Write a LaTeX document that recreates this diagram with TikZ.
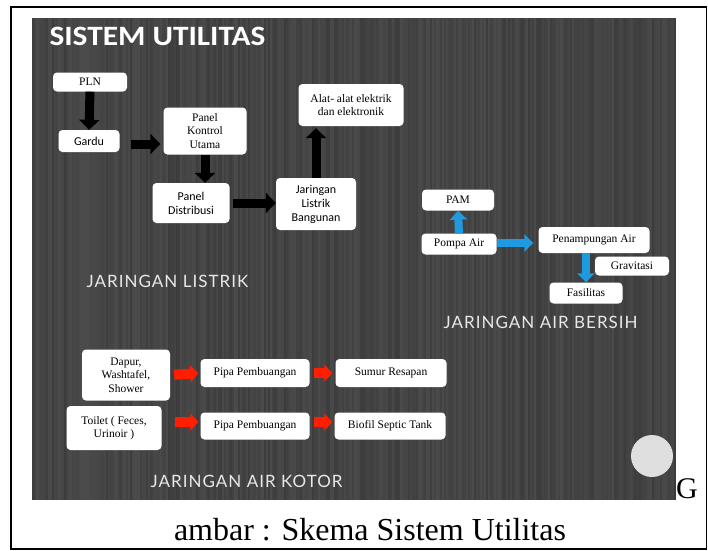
\documentclass[tikz,border=0pt]{standalone}
\usepackage{fontspec}
\setmainfont{Liberation Serif}
\newfontfamily\boxsans{Carlito}
\newfontfamily\titlefont[FakeStretch=1.12]{Carlito}
\newfontfamily\labelfont[LetterSpace=6]{Lato}
\usetikzlibrary{arrows.meta}

\definecolor{slidebg}{HTML}{3C3C3C}
\definecolor{airblue}{HTML}{1F9AE0}
\definecolor{kotorred}{HTML}{FF1E00}
\definecolor{labelgray}{HTML}{E8E8E8}

\begin{document}
\begin{tikzpicture}[x=1pt, y=-1pt,
    box/.style={fill=white, rounded corners=4pt, align=center, inner sep=1pt,
        font=\fontsize{11.5}{13.5}\selectfont},
    sansbox/.style={box, font=\boxsans\fontsize{12}{14}\selectfont},
    seclabel/.style={anchor=base west, text=labelgray, font=\labelfont\fontsize{17}{17}\selectfont},
    listrikarrow/.style={black, line width=9pt, -{Triangle[width=20pt,length=10pt]}},
    airarrow/.style={airblue, line width=8pt, -{Triangle[width=17pt,length=9pt]}},
    kotorarrow/.style={kotorred, line width=10pt, -{Triangle[width=17pt,length=8pt]}}]

        \useasboundingbox (0,0) rectangle (708,550);
        \draw[line width=1.5pt] (11,7) rectangle (706.5,549);

        % Slide background with stripes
        \fill[slidebg] (32,18) rectangle (676,500);
        \pgfmathsetseed{3}
        \foreach \sx in {33,35,...,675}{
            \pgfmathsetmacro{\shade}{rnd*8}
            \draw[white!\shade!slidebg, line width=1.2pt] (\sx,18) -- (\sx,500);
        }
        \node[anchor=base west, text=white, font=\titlefont\bfseries\fontsize{28}{28}\selectfont] (title) at (46,45) {SISTEM UTILITAS};

        % Jaringan listrik
        \node[box, minimum width=74pt, minimum height=19pt] (pln) at (90,82) {PLN};
        \node[sansbox, minimum width=61pt, minimum height=22pt] (gardu) at (89,141) {Gardu};
        \node[box, minimum width=83pt, minimum height=47pt] (pku) at (205,131) {Panel\\Kontrol\\Utama};
        \node[sansbox, minimum width=77pt, minimum height=40pt] (pds) at (191,203) {Panel\\Distribusi};
        \node[sansbox, minimum width=80pt, minimum height=52pt] (jls) at (316,204) {Jaringan\\Listrik\\Bangunan};
        \node[box, minimum width=105pt, minimum height=42pt] (alat) at (351,105) {Alat- alat elektrik\\dan elektronik};

        \draw[listrikarrow] (pln.south) -- (gardu.north);
        \draw[listrikarrow, shorten <=11pt, shorten >=3pt] ([yshift=-3pt]gardu.east) -- ([yshift=-3pt]gardu.east -| pku.west);
        \draw[listrikarrow] (pku.south) -- (pku.south |- pds.north);
        \draw[listrikarrow, shorten <=3pt] (pds.east) -- (pds.east -| jls.west);
        \draw[listrikarrow, shorten >=2pt] (jls.north) -- (jls.north |- alat.south);
        \node[seclabel] (lbllistrik) at (83,287) {JARINGAN LISTRIK};

        % Jaringan air bersih
        \node[box, minimum width=72pt, minimum height=21pt] (pam) at (458,200) {PAM};
        \node[box, minimum width=75pt, minimum height=21pt] (pompa) at (459,244) {Pompa Air};
        \node[box, minimum width=111pt, minimum height=26pt] (tampung) at (594,240) {Penampungan Air};
        \node[box, minimum width=74pt, minimum height=19pt] (grav) at (632,266) {Gravitasi};
        \node[box, minimum width=73pt, minimum height=21pt] (fasil) at (586,293) {Fasilitas};

        \draw[airarrow] (pompa.north) -- (pam.south);
        \draw[airarrow, shorten >=5pt] ([yshift=1pt]pompa.east) -- ([yshift=1pt]pompa.east -| tampung.west);
        \draw[airarrow] (fasil.north |- tampung.south) -- (fasil.north);
        \node[seclabel] (lblbersih) at (440,328) {JARINGAN AIR BERSIH};

        % Jaringan air kotor
        \node[box, minimum width=88pt, minimum height=51pt] (dapur) at (126,375) {Dapur,\\Washtafel,\\Shower};
        \node[box, minimum width=109pt, minimum height=28pt] (pipaa) at (255,373) {Pipa Pembuangan};
        \node[box, minimum width=111pt, minimum height=28pt] (sumur) at (391,373) {Sumur Resapan};
        \node[box, minimum width=95pt, minimum height=44pt] (toilet) at (114,428) {Toilet ( Feces,\\Urinoir )};
        \node[box, minimum width=109pt, minimum height=27pt] (pipab) at (255,426) {Pipa Pembuangan};
        \node[box, minimum width=111pt, minimum height=27pt] (biofil) at (390,426) {Biofil Septic Tank};

        \draw[kotorarrow, shorten <=4pt, shorten >=2pt] (dapur.east) -- (pipaa.west);
        \draw[kotorarrow, shorten <=4pt, shorten >=3pt] (pipaa.east) -- (sumur.west);
        \draw[kotorarrow, shorten <=13pt, shorten >=2pt] ([yshift=6pt]toilet.east) -- ([yshift=6pt]toilet.east -| pipab.west);
        \draw[kotorarrow, shorten <=4pt, shorten >=2pt] ([yshift=4pt]pipab.east) -- ([yshift=4pt]pipab.east -| biofil.west);
        \node[seclabel] (lblkotor) at (147,487) {JARINGAN AIR KOTOR};

        \fill[gray!25] (652,456) circle (21pt); % slide button

        % Caption
        \node[anchor=base west, inner sep=0pt, font=\fontsize{30}{30}\selectfont] (capg) at (676,498) {G};
        \node[anchor=base, inner sep=0pt, font=\fontsize{32}{32}\selectfont] (caption) at (370,540) {ambar : Skema Sistem Utilitas};

\end{tikzpicture}
\end{document}
